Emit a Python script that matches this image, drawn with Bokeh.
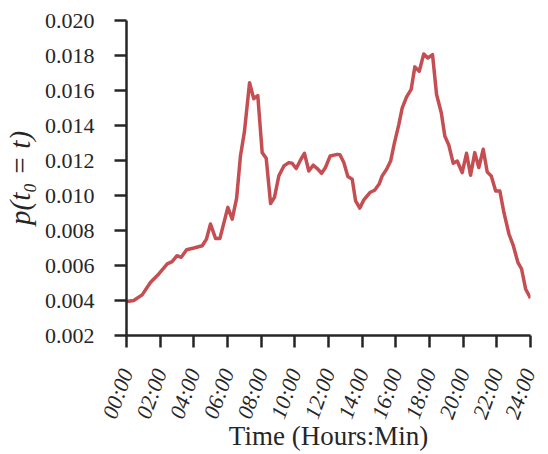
from bokeh.plotting import figure
from bokeh.models import Range1d, FixedTicker, PrintfTickFormatter
from bokeh.embed import file_html
from bokeh.resources import INLINE
import math

# Data (hours of day, probability density)
hours = [0.0, 0.43, 0.93, 1.43, 1.92, 2.42, 2.71, 3.0, 3.25, 3.57,
         4.0, 4.5, 4.75, 4.99, 5.29, 5.55, 6.02, 6.28, 6.54, 6.77,
         7.01, 7.31, 7.56, 7.8, 8.06, 8.3, 8.56, 8.79, 9.05, 9.35,
         9.64, 9.84, 10.08, 10.34, 10.57, 10.83, 11.09, 11.33, 11.59, 11.82,
         12.1, 12.52, 12.68, 12.91, 13.15, 13.41, 13.61, 13.86, 14.1, 14.46,
         14.74, 15.0, 15.19, 15.45, 15.69, 15.92, 16.18, 16.38, 16.64, 16.91,
         17.13, 17.39, 17.66, 17.9, 18.18, 18.42, 18.7, 18.91, 19.15, 19.41,
         19.65, 19.94, 20.2, 20.44, 20.69, 20.93, 21.19, 21.43, 21.67, 21.93,
         22.18, 22.42, 22.72, 22.98, 23.25, 23.47, 23.71, 24.0]
prob = [0.00394, 0.0040, 0.00432, 0.00504, 0.00552, 0.00609, 0.00622, 0.00656, 0.00647, 0.0069,
        0.0070, 0.00713, 0.00751, 0.00837, 0.00755, 0.00755, 0.00932, 0.00865, 0.00983, 0.01226,
        0.01368, 0.01644, 0.01553, 0.01571, 0.01245, 0.01213, 0.00954, 0.00989, 0.01112, 0.01169,
        0.01188, 0.01184, 0.01154, 0.01203, 0.01241, 0.0114, 0.01173, 0.01154, 0.01127, 0.0116,
        0.01226, 0.01235, 0.01233, 0.01188, 0.01108, 0.01093, 0.00969, 0.00928, 0.00975, 0.01017,
        0.0103, 0.01064, 0.01112, 0.0115, 0.01197, 0.01302, 0.01406, 0.01501, 0.01564, 0.01606,
        0.01735, 0.0171, 0.01809, 0.01786, 0.01805, 0.01577, 0.01473, 0.0134, 0.01287, 0.01184,
        0.01197, 0.01131, 0.01241, 0.01116, 0.01245, 0.0116, 0.01264, 0.01134, 0.01112, 0.01026,
        0.01026, 0.00903, 0.0078, 0.00713, 0.00618, 0.0058, 0.00466, 0.00413]

x_ticks = [0, 2, 4, 6, 8, 10, 12, 14, 16, 18, 20, 22, 24]
x_tick_labels = ["00:00", "02:00", "04:00", "06:00", "08:00", "10:00", "12:00",
                 "14:00", "16:00", "18:00", "20:00", "22:00", "24:00"]
y_ticks = [0.002, 0.004, 0.006, 0.008, 0.010, 0.012, 0.014, 0.016, 0.018, 0.020]

x_label = "Time (Hours:Min)"
y_label = "p(t\u2080 = t)"

FONT = "Liberation Serif"
INK = "#262626"

p = figure(width=540, height=454, output_backend="svg", toolbar_location=None,
           x_range=Range1d(0, 24), y_range=Range1d(0.002, 0.020),
           min_border_left=126, min_border_right=10, min_border_top=20, min_border_bottom=118)
p.outline_line_color = None
p.xgrid.visible = False
p.ygrid.visible = False
p.background_fill_color = "white"
p.border_fill_color = "white"

p.line(hours, prob, line_color="#C44E52", line_width=3.5, line_join="round")

p.xaxis.ticker = FixedTicker(ticks=x_ticks)
p.xaxis.major_label_overrides = {t: l for t, l in zip(x_ticks, x_tick_labels)}
p.xaxis.major_label_orientation = math.radians(70)
p.xaxis.major_label_text_font_style = "italic"
p.yaxis.ticker = FixedTicker(ticks=y_ticks)
p.yaxis.formatter = PrintfTickFormatter(format="%.3f")

p.xaxis.axis_label = x_label
p.yaxis.axis_label = y_label
p.yaxis.axis_label_text_font_style = "italic"
p.xaxis.axis_label_text_font_style = "normal"

for ax in (p.xaxis, p.yaxis):
    ax.axis_line_color = INK
    ax.axis_line_width = 2.5
    ax.major_tick_line_color = INK
    ax.major_tick_line_width = 2.5
    ax.major_tick_in = 0
    ax.major_tick_out = 12
    ax.minor_tick_line_color = None
    ax.major_label_text_font = FONT
    ax.major_label_text_font_size = "22px"
    ax.major_label_text_color = INK
    ax.axis_label_text_font = FONT
    ax.axis_label_text_color = INK

p.xaxis.axis_label_text_font_size = "27px"
p.yaxis.axis_label_text_font_size = "29px"
p.yaxis.major_label_standoff = 20
p.xaxis.major_label_standoff = 22
p.yaxis.axis_label_standoff = 6
p.xaxis.axis_label_standoff = -8

open("out.html", "w").write(file_html(p, INLINE))
